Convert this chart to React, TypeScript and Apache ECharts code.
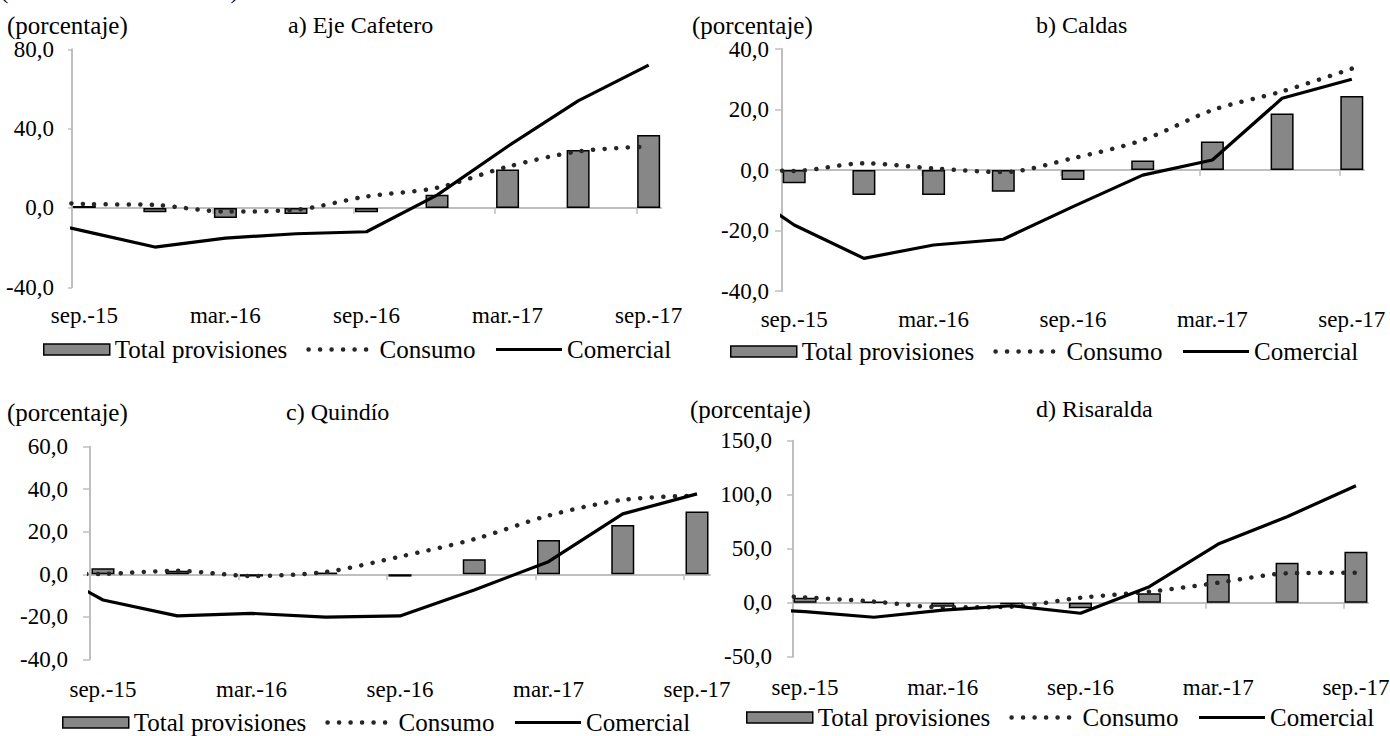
import React, { useEffect, useRef } from "react";
import * as echarts from "echarts";

// ---------- data ----------
const categories = ["sep.-15", "dic.-15", "mar.-16", "jun.-16", "sep.-16", "dic.-16", "mar.-17", "jun.-17", "sep.-17"];
const labelPositions = [0, 2, 4, 6, 8];
const zeroLineTicks = [1.825, 3.825, 5.825, 7.825];

// a) Eje Cafetero
const ejeTotal = [1.0, -2.2, -5.1, -3.0, -2.2, 6.7, 19.4, 29.2, 36.8];
const ejeConsumo = [2.0, 1.5, -1.8, -0.9, 5.8, 10.2, 20.8, 28.5, 31.0];
const ejeComercial = [-11.7, -19.7, -15.2, -13.0, -12.0, 6.5, 31.0, 54.0, 72.0];
const ejePrevConsumo = 4.0; // jun.-15, only visible as the stub at the axis
const ejePrevComercial = -3.7;

// b) Caldas
const caldasTotal = [-4.4, -8.3, -8.3, -7.2, -3.3, 3.1, 9.4, 18.7, 24.5];
const caldasConsumo = [-0.3, 2.2, 0.5, -0.7, 3.9, 9.9, 19.8, 26.0, 33.5];
const caldasComercial = [-18.2, -29.2, -24.8, -22.9, -12.1, -1.7, 3.3, 23.7, 30.0];
const caldasPrevConsumo = 0.0;
const caldasPrevComercial = -2.3;

// c) Quindío
const quindioTotal = [2.8, 1.7, -1.1, 0.8, -1.1, 7.1, 16.1, 23.2, 29.5];
const quindioConsumo = [0.2, 1.6, -0.8, 1.1, 8.3, 16.5, 27.6, 35.0, 37.0];
const quindioComercial = [-12.1, -19.6, -18.4, -20.2, -19.6, -7.4, 5.9, 28.4, 37.8];
const quindioPrevConsumo = 0.0;
const quindioPrevComercial = 7.0;

// d) Risaralda
const risaraldaTotal = [4.6, 1.0, -3.7, -1.5, -5.2, 8.7, 26.6, 37.0, 47.2];
const risaraldaConsumo = [4.9, 1.0, -4.3, -3.7, 4.6, 10.2, 18.5, 27.2, 27.8];
const risaraldaComercial = [-8.3, -13.5, -6.8, -2.8, -9.8, 14.8, 54.3, 79.6, 108.3];
const risaraldaPrevConsumo = 8.5;
const risaraldaPrevComercial = -5.0;

const seriesNames = ["Total provisiones", "Consumo", "Comercial"];
const unitLabel = "(porcentaje)";
const topNote = "(crecimiento anual real)";

// ---------- layout ----------
const FONT = "Liberation Serif";
const X_MIN = -0.175;
const X_MAX = 8.175;

const panels = [
  {
    title: "a) Eje Cafetero", total: ejeTotal, consumo: ejeConsumo, comercial: ejeComercial,
    prevConsumo: ejePrevConsumo, prevComercial: ejePrevComercial,
    grid: { left: 72, top: 49.3, width: 589, height: 238 },
    y: { min: -40, max: 80, interval: 40, margin: 18, tick: 4 }, xMargin: 17,
    legend: { left: 38, top: 332 },
    unitPos: [7, 25], titlePos: [288, 25],
  },
  {
    title: "b) Caldas", total: caldasTotal, consumo: caldasConsumo, comercial: caldasComercial,
    prevConsumo: caldasPrevConsumo, prevComercial: caldasPrevComercial,
    grid: { left: 782, top: 49, width: 582, height: 242 },
    y: { min: -40, max: 40, interval: 20, margin: 13, tick: 7 }, xMargin: 17,
    legend: { left: 725, top: 334 },
    unitPos: [692, 25], titlePos: [1036, 25],
  },
  {
    title: "c) Quindío", total: quindioTotal, consumo: quindioConsumo, comercial: quindioComercial,
    prevConsumo: quindioPrevConsumo, prevComercial: quindioPrevComercial,
    grid: { left: 90, top: 446.7, width: 620, height: 212.6 },
    y: { min: -40, max: 60, interval: 20, margin: 22, tick: 7 }, xMargin: 19,
    legend: { left: 57, top: 705 },
    unitPos: [7, 412], titlePos: [286, 412],
  },
  {
    title: "d) Risaralda", total: risaraldaTotal, consumo: risaraldaConsumo, comercial: risaraldaComercial,
    prevConsumo: risaraldaPrevConsumo, prevComercial: risaraldaPrevComercial,
    grid: { left: 793, top: 440.7, width: 575, height: 216 },
    y: { min: -50, max: 150, interval: 50, margin: 21, tick: 6 }, xMargin: 19,
    legend: { left: 741, top: 700 },
    unitPos: [690, 409], titlePos: [1036, 409],
  },
];

const BAR_COLOR = "#878787";
const AXIS_GRAY = "#bfbfbf";
const DOT_COLOR = "#262626";
const DOT_STYLE = { color: DOT_COLOR, width: 4.5, type: [0.1, 11.4], cap: "round" };
const SOLID_STYLE = { color: "#000", width: 3.2, type: "solid" };

function buildOption() {
  const grid: any[] = [];
  const xAxis: any[] = [];
  const yAxis: any[] = [];
  const series: any[] = [];
  const legend: any[] = [];
  const graphic: any[] = [];

  graphic.push({
    type: "text", x: 0, y: 2,
    style: { text: topNote, fontFamily: FONT, fontSize: 25, fill: "#000", verticalAlign: "bottom", align: "left" },
  });

  panels.forEach((p, i) => {
    grid.push({ ...p.grid, containLabel: false, outerBoundsMode: "none" });

    // label axis (bottom of plot)
    xAxis.push({
      gridIndex: i, type: "value", min: X_MIN, max: X_MAX, position: "bottom",
      axisLine: { show: false, onZero: false },
      axisTick: { show: false },
      splitLine: { show: false },
      axisLabel: {
        customValues: labelPositions,
        formatter: (v: number) => categories[Math.round(v)] ?? "",
        margin: p.xMargin, fontFamily: FONT, fontSize: 23, color: "#000",
      },
    });
    // zero line axis
    xAxis.push({
      gridIndex: i, type: "value", min: X_MIN, max: X_MAX, position: "bottom",
      axisLine: { show: true, onZero: true, lineStyle: { color: AXIS_GRAY, width: 2 } },
      axisTick: { show: true, length: 6, customValues: zeroLineTicks, lineStyle: { color: AXIS_GRAY, width: 1.5 } },
      axisLabel: { show: false },
      splitLine: { show: false },
    });

    yAxis.push({
      gridIndex: i, type: "value", min: p.y.min, max: p.y.max, interval: p.y.interval,
      axisLine: { show: true, onZero: false, lineStyle: { color: AXIS_GRAY, width: 2 } },
      axisTick: { show: true, length: p.y.tick, lineStyle: { color: AXIS_GRAY, width: 1.5 } },
      splitLine: { show: false },
      axisLabel: {
        formatter: (v: number) => v.toFixed(1).replace(".", ","),
        margin: p.y.margin, fontFamily: FONT, fontSize: 23, color: "#000",
      },
    });

    series.push({
      type: "bar", name: seriesNames[0], xAxisIndex: 2 * i, yAxisIndex: i,
      barWidth: 23,
      data: p.total.map((v, k) => [k, v]),
      itemStyle: { color: BAR_COLOR, borderColor: "#000", borderWidth: 1.5 },
      z: 2,
    });
    series.push({
      type: "line", name: seriesNames[1], xAxisIndex: 2 * i, yAxisIndex: i,
      data: [[-1, p.prevConsumo], ...p.consumo.map((v, k) => [k, v])],
      smooth: 0.3, symbol: "none", clip: true,
      lineStyle: DOT_STYLE,
      itemStyle: { color: DOT_COLOR },
      z: 3,
    });
    series.push({
      type: "line", name: seriesNames[2], xAxisIndex: 2 * i, yAxisIndex: i,
      data: [[-1, p.prevComercial], ...p.comercial.map((v, k) => [k, v])],
      symbol: "none", clip: true,
      lineStyle: SOLID_STYLE,
      itemStyle: { color: "#000" },
      z: 4,
    });

    legend.push({
      left: p.legend.left, top: p.legend.top, orient: "horizontal",
      itemWidth: 66, itemHeight: 11, itemGap: 19, selectedMode: false,
      textStyle: { fontFamily: FONT, fontSize: 25, color: "#000" },
      data: [
        { name: seriesNames[0], icon: "rect", itemStyle: { color: BAR_COLOR, borderColor: "#000", borderWidth: 1.5 } },
        { name: seriesNames[1], itemStyle: { opacity: 0 }, lineStyle: DOT_STYLE },
        { name: seriesNames[2], itemStyle: { opacity: 0 }, lineStyle: SOLID_STYLE },
      ],
    });

    graphic.push({
      type: "text", x: p.unitPos[0], y: p.unitPos[1],
      style: { text: unitLabel, fontFamily: FONT, fontSize: 25, fill: "#000", verticalAlign: "middle", align: "left" },
    });
    graphic.push({
      type: "text", x: p.titlePos[0], y: p.titlePos[1],
      style: { text: p.title, fontFamily: FONT, fontSize: 24, fill: "#000", verticalAlign: "middle", align: "left" },
    });
  });

  return {
    animation: false,
    backgroundColor: "#fff",
    textStyle: { fontFamily: FONT },
    grid, xAxis, yAxis, series, legend, graphic,
  };
}

export default function App() {
  const ref = useRef<HTMLDivElement>(null);
  useEffect(() => {
    document.body.style.margin = "0";
    document.body.style.overflow = "hidden";
    if (!ref.current) return;
    const chart = echarts.init(ref.current, undefined, { renderer: "svg" });
    chart.setOption(buildOption() as any);
    return () => chart.dispose();
  }, []);
  return <div ref={ref} style={{ width: 1390, height: 736 }} />;
}
